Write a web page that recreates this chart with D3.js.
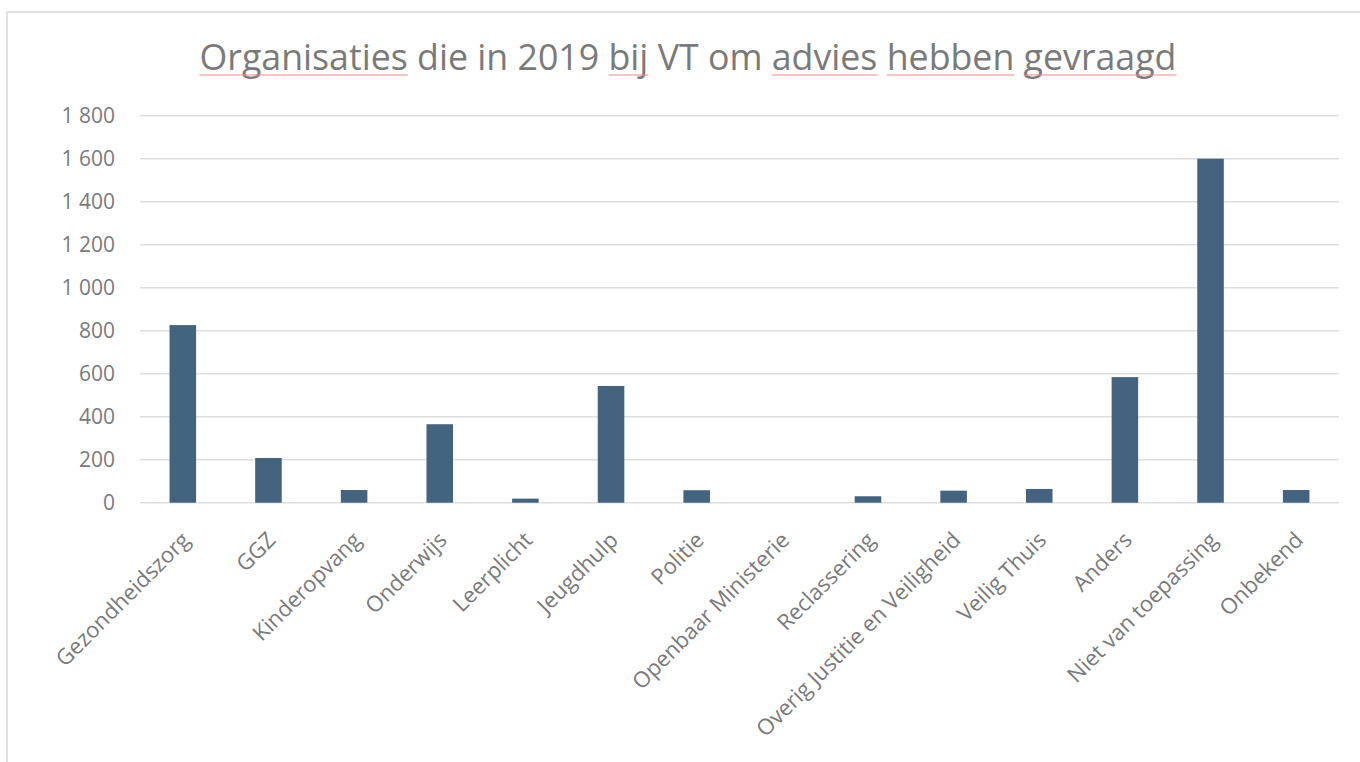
<!DOCTYPE html>
<html>
<head>
<meta charset="utf-8">
<script src="https://cdn.jsdelivr.net/npm/d3@7"></script>
<style>
  html, body { margin: 0; padding: 0; background: #fff; }
  svg { display: block; }
</style>
</head>
<body>
<svg id="chart" width="1360" height="762"></svg>
<script>
const categories = ["Gezondheidszorg", "GGZ", "Kinderopvang", "Onderwijs", "Leerplicht", "Jeugdhulp", "Politie", "Openbaar Ministerie", "Reclassering", "Overig Justitie en Veiligheid", "Veilig Thuis", "Anders", "Niet van toepassing", "Onbekend"];
const values = [826, 208, 59, 365, 19, 543, 58, 0, 30, 56, 64, 584, 1600, 59];
const yTicks = [0, 200, 400, 600, 800, 1000, 1200, 1400, 1600, 1800];
const titleWords = ["Organisaties", "die", "in", "2019", "bij", "VT", "om", "advies", "hebben", "gevraagd"];
const flaggedWords = ["Organisaties", "bij", "advies", "hebben", "gevraagd"];

const FONT = "'Open Sans', 'Noto Sans', sans-serif";
const TEXT = "#7a7a7a";
const svg = d3.select("#chart");

// chart area border
svg.append("rect")
  .attr("x", 7).attr("y", 12)
  .attr("width", 1400).attr("height", 800)
  .attr("fill", "#fff")
  .attr("stroke", "#e0e0e0").attr("stroke-width", 2);

const x = d3.scaleBand().domain(categories).range([140, 1339]).paddingInner(0.69).paddingOuter(0.345);
const y = d3.scaleLinear().domain([0, 1800]).range([502.7, 115.7]);

const loc = d3.formatLocale({decimal: ",", thousands: "\u00a0", grouping: [3], currency: ["", ""]});
const fmt = loc.format(",d");

// gridlines
svg.append("g").selectAll("line").data(yTicks).join("line")
  .attr("x1", 140).attr("x2", 1339)
  .attr("y1", d => y(d)).attr("y2", d => y(d))
  .attr("stroke", "#dedede").attr("stroke-width", 1.5);

// y axis labels
const yAxis = svg.append("g").attr("transform", "translate(140,0)")
  .call(d3.axisLeft(y).tickValues(yTicks).tickFormat(fmt).tickSize(0).tickPadding(25));
yAxis.select(".domain").remove();
yAxis.selectAll("text").attr("font-family", FONT).attr("font-size", 21).attr("fill", TEXT);

// bars
svg.append("g").selectAll("rect").data(categories).join("rect")
  .attr("x", d => x(d))
  .attr("width", x.bandwidth())
  .attr("y", (d, i) => y(values[i]))
  .attr("height", (d, i) => y(0) - y(values[i]))
  .attr("fill", "#43637e");

// x axis labels
const xAxis = svg.append("g").attr("transform", "translate(0,536)")
  .call(d3.axisBottom(x).tickSize(0).tickPadding(0));
xAxis.select(".domain").remove();
xAxis.selectAll("text")
  .attr("font-family", FONT).attr("font-size", 22).attr("fill", TEXT)
  .attr("text-anchor", "end")
  .attr("y", 0).attr("x", 0).attr("dy", "0.35em")
  .attr("transform", "translate(3,0) rotate(-45)");

// title
const title = svg.append("text")
  .attr("x", 688).attr("y", 70)
  .attr("text-anchor", "middle")
  .attr("font-family", FONT).attr("font-size", 28).attr("fill", TEXT);
title.selectAll("tspan").data(titleWords).join("tspan")
  .text((d, i) => (i ? " " : "") + d);
const target = 977;
const w = title.node().getComputedTextLength();
title.attr("font-size", 28 * target / w);

// spell-check style underlines
title.selectAll("tspan").each(function(d) {
  if (!flaggedWords.includes(d)) return;
  const node = this;
  const n = node.getNumberOfChars();
  const hasSpace = node.textContent.startsWith(" ");
  const start = node.getStartPositionOfChar(hasSpace ? 1 : 0);
  const end = node.getEndPositionOfChar(n - 1);
  svg.append("line")
    .attr("x1", start.x).attr("x2", end.x)
    .attr("y1", 75).attr("y2", 75)
    .attr("stroke", "#f08a8a").attr("stroke-width", 1);
});
</script>
</body>
</html>
